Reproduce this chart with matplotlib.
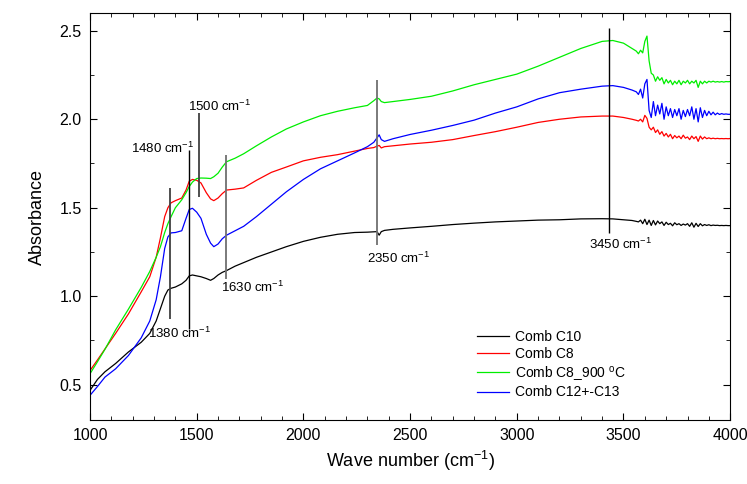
import numpy as np
import matplotlib
matplotlib.use("Agg")
import matplotlib.pyplot as plt
from matplotlib.ticker import MultipleLocator

plt.rcParams['font.family'] = ['Liberation Sans', 'DejaVu Sans']
plt.rcParams['mathtext.default'] = 'regular'

# wavenumber grid (smooth part + noisy tail)
wn_main = [1000, 1035, 1070, 1120, 1180, 1240, 1280, 1310, 1330, 1350, 1365, 1380, 1400, 1430,
           1450, 1465, 1480, 1500, 1520, 1545, 1565, 1580, 1600, 1620, 1640, 1680, 1720, 1780,
           1850, 1920, 2000, 2080, 2160, 2240, 2300, 2330, 2345, 2355, 2365, 2380, 2420, 2500,
           2600, 2700, 2800, 2900, 3000, 3100, 3200, 3300, 3400, 3450, 3500, 3540, 3560]
wn_tail = [3570, 3580, 3590, 3600, 3610, 3620, 3630, 3640, 3650, 3660, 3670, 3680, 3690, 3700,
           3710, 3720, 3730, 3740, 3750, 3760, 3770, 3780, 3790, 3800, 3810, 3820, 3830, 3840,
           3850, 3860, 3870, 3880, 3890, 3900, 3910, 3920, 3930, 3940, 3950, 3960, 3970, 3980,
           3990, 4000]

c10_main = [0.468, 0.53, 0.573, 0.62, 0.685, 0.74, 0.79, 0.86, 0.93, 1.00, 1.035, 1.045, 1.052, 1.07,
            1.09, 1.115, 1.12, 1.115, 1.11, 1.10, 1.09, 1.10, 1.12, 1.135, 1.145, 1.17, 1.19, 1.22,
            1.25, 1.28, 1.31, 1.333, 1.35, 1.36, 1.362, 1.364, 1.365, 1.345, 1.365, 1.372, 1.378, 1.386,
            1.395, 1.405, 1.413, 1.42, 1.425, 1.43, 1.432, 1.437, 1.438, 1.437, 1.432, 1.428, 1.423]
c10_tail = [1.42, 1.43, 1.41, 1.435, 1.405, 1.43, 1.40, 1.428, 1.403, 1.425, 1.41, 1.42, 1.40, 1.418,
            1.405, 1.412, 1.398, 1.415, 1.404, 1.41, 1.40, 1.408, 1.402, 1.41, 1.395, 1.415, 1.39, 1.412,
            1.394, 1.41, 1.398, 1.405, 1.40, 1.404, 1.399, 1.402, 1.40, 1.401, 1.399, 1.40, 1.399, 1.40,
            1.399, 1.399]

c8_main = [0.58, 0.64, 0.702, 0.79, 0.90, 1.025, 1.11, 1.22, 1.33, 1.45, 1.50, 1.528, 1.54, 1.555,
           1.60, 1.65, 1.66, 1.655, 1.64, 1.585, 1.55, 1.54, 1.555, 1.58, 1.60, 1.605, 1.612, 1.655,
           1.70, 1.73, 1.765, 1.785, 1.80, 1.82, 1.835, 1.84, 1.848, 1.852, 1.838, 1.845, 1.85, 1.86,
           1.87, 1.885, 1.908, 1.93, 1.955, 1.982, 2.0, 2.013, 2.018, 2.018, 2.01, 2.0, 1.994]
c8_tail = [1.99, 2.0, 1.985, 2.022, 2.005, 1.955, 1.94, 1.955, 1.925, 1.94, 1.915, 1.93, 1.905, 1.92,
           1.9, 1.915, 1.89, 1.908, 1.895, 1.905, 1.89, 1.91, 1.893, 1.9, 1.885, 1.905, 1.89, 1.902,
           1.875, 1.905, 1.888, 1.9, 1.89, 1.895, 1.89, 1.893, 1.89, 1.892, 1.89, 1.891, 1.89, 1.891,
           1.89, 1.891]

c8_900_main = [0.562, 0.63, 0.70, 0.81, 0.927, 1.05, 1.14, 1.22, 1.28, 1.36, 1.41, 1.45, 1.50, 1.545,
               1.585, 1.62, 1.645, 1.665, 1.668, 1.667, 1.665, 1.675, 1.695, 1.73, 1.76, 1.78, 1.805, 1.85,
               1.90, 1.945, 1.985, 2.02, 2.045, 2.065, 2.078, 2.105, 2.12, 2.115, 2.10, 2.094, 2.10, 2.112,
               2.13, 2.16, 2.195, 2.225, 2.255, 2.30, 2.35, 2.40, 2.44, 2.445, 2.43, 2.40, 2.385]
c8_900_tail = [2.37, 2.39, 2.375, 2.44, 2.47, 2.33, 2.26, 2.25, 2.215, 2.24, 2.22, 2.235, 2.2, 2.225,
               2.205, 2.22, 2.195, 2.215, 2.2, 2.22, 2.195, 2.215, 2.205, 2.22, 2.2, 2.215, 2.205, 2.22,
               2.18, 2.215, 2.2, 2.215, 2.205, 2.215, 2.21, 2.215, 2.21, 2.213, 2.21, 2.213, 2.21, 2.213,
               2.212, 2.213]

c12_main = [0.44, 0.49, 0.543, 0.59, 0.665, 0.765, 0.86, 0.98, 1.11, 1.27, 1.335, 1.358, 1.36, 1.37,
            1.44, 1.49, 1.497, 1.475, 1.44, 1.35, 1.30, 1.28, 1.295, 1.325, 1.345, 1.37, 1.395, 1.45,
            1.52, 1.59, 1.66, 1.72, 1.765, 1.81, 1.845, 1.87, 1.895, 1.912, 1.885, 1.875, 1.89, 1.914,
            1.938, 1.965, 1.995, 2.035, 2.07, 2.115, 2.15, 2.17, 2.187, 2.19, 2.18, 2.165, 2.155]
c12_tail = [2.14, 2.17, 2.12, 2.2, 2.225, 2.05, 2.01, 2.1, 2.02, 2.08, 2.03, 2.09, 2.0, 2.07,
            2.02, 2.06, 2.01, 2.055, 2.02, 2.06, 2.0, 2.05, 2.015, 2.055, 2.02, 2.07, 2.0, 2.06,
            1.985, 2.065, 2.01, 2.05, 2.02, 2.045, 2.025, 2.04, 2.025, 2.035, 2.027, 2.032, 2.028, 2.03,
            2.028, 2.028]

labels = ['Comb C10', 'Comb C8', 'Comb C8_900 $^o$C', 'Comb C12+-C13']
colors = ['black', 'red', '#00ee00', 'blue']

# peak markers: position, line bottom/top, colour, label text position
peaks = [1375, 1465, 1511, 1637, 2345, 3433]
peak_lo = [0.87, 0.815, 1.56, 1.095, 1.29, 1.36]
peak_hi = [1.61, 1.826, 2.034, 1.80, 2.22, 2.517]
peak_col = ['#404040', 'black', '#404040', '#707070', '#707070', 'black']
peak_lbl = ['1380', '1480', '1500', '1630', '2350', '3450']
lbl_xy = [(1420, 0.79), (1340, 1.835), (1609, 2.075), (1760, 1.05), (2448, 1.215), (3484, 1.292)]

fig = plt.figure(figsize=(7.47, 4.84), dpi=100)
ax = fig.add_axes([0.1205, 0.132, 0.857, 0.841])

series = [(c10_main, c10_tail), (c8_main, c8_tail), (c8_900_main, c8_900_tail), (c12_main, c12_tail)]
wn = wn_main + wn_tail
for (m, t), lab, col in zip(series, labels, colors):
    ax.plot(wn, m + t, color=col, lw=0.9, label=lab)

for x, lo, hi, c in zip(peaks, peak_lo, peak_hi, peak_col):
    ax.vlines(x, lo, hi, color=c, lw=1.3 if c != 'black' else 1.0, zorder=3)
for txt, (tx, ty) in zip(peak_lbl, lbl_xy):
    ax.text(tx, ty, txt + ' cm$^{-1}$', ha='center', va='center', fontsize=9.5)

ax.set_xlim(1000, 4000)
ax.set_ylim(0.3, 2.6)
ax.xaxis.set_major_locator(MultipleLocator(500))
ax.xaxis.set_minor_locator(MultipleLocator(100))
ax.yaxis.set_major_locator(MultipleLocator(0.5))
ax.yaxis.set_minor_locator(MultipleLocator(0.25))
ax.tick_params(which='both', direction='in', top=True, right=True, labelsize=11.5)
ax.tick_params(which='major', length=5, pad=6)
ax.tick_params(which='minor', length=3)
ax.set_xlabel('Wave number (cm$^{-1}$)', fontsize=13)
ax.set_ylabel('Absorbance', fontsize=13, labelpad=10)

ax.legend(loc='lower left', bbox_to_anchor=(0.585, 0.02), frameon=False, fontsize=10,
          handlelength=2.3, handletextpad=0.4, labelspacing=0.2)

fig.savefig('out.png', dpi=100)
